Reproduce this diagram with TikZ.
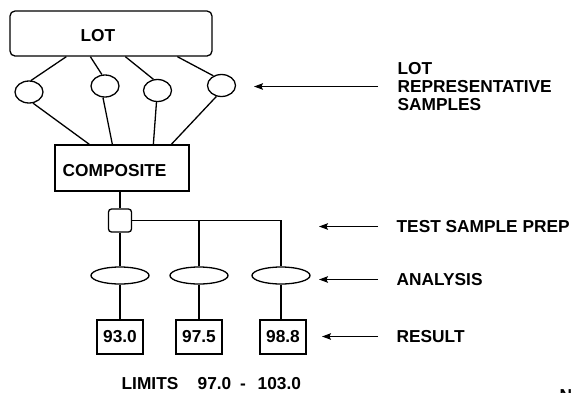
\documentclass[tikz,border=0pt]{standalone}
\usepackage{fontspec}
\setmainfont{Liberation Sans}
\usetikzlibrary{shapes.geometric,arrows.meta,calc}
\begin{document}
\begin{tikzpicture}[x=1pt,y=-1pt,line width=1.3pt,
  every node/.style={font=\fontsize{17.3}{18}\selectfont\bfseries,inner sep=0pt},
  lotbox/.style={draw,rounded corners=5pt,minimum width=202pt,minimum height=45pt},
  compbox/.style={draw,minimum width=134pt,minimum height=46pt},
  sample/.style={draw,ellipse,minimum width=28pt,minimum height=22pt},
  prep/.style={draw,rounded corners=3pt,minimum width=23pt,minimum height=23pt},
  assay/.style={draw,ellipse,minimum width=58pt,minimum height=17pt},
  resbox/.style={draw,minimum width=46pt,minimum height=34pt},
  caption/.style={anchor=west,align=left},
  arr/.style={-{Stealth[length=9pt,width=6.5pt,inset=1.5pt]}}]
\useasboundingbox (0,0) rectangle (574,392);

% lot and its samples
\node[lotbox] (lot) at (111,33.5) {};
\node[anchor=base west] (lottxt) at (80,41) {LOT};
\node[sample] (s1) at (29,92) {};
\node[sample] (s2) at (105,86) {};
\node[sample] (s3) at (157.5,90.5) {};
\node[sample] (s4) at (221.5,85.5) {};

% composite
\node[compbox] (comp) at (122,168) {};
\node[anchor=base west] (comptxt) at (62,176) {COMPOSITE};

\draw ($(lot.south west)+(57,0)$) -- (s1.80);
\draw ($(lot.south west)+(81,0)$) -- (s2.105);
\draw ($(lot.south west)+(116,0)$) -- (s3.110);
\draw ($(lot.south west)+(168,0)$) -- (s4.130);

\draw (s1.-70) -- ($(comp.north west)+(35,0)$);
\draw (s2.-100) -- ($(comp.north west)+(58,0)$);
\draw (s3.-95) -- ($(comp.north west)+(99,0)$);
\draw (s4.-115) -- ($(comp.north west)+(117,0)$);

% test sample preparation, analysis, results
\node[prep] (sq) at (120,220.5) {};
\node[assay] (a1) at (120,275.5) {};
\node[assay] (a2) at (199,275.5) {};
\node[assay] (a3) at (281,275.5) {};
\node[resbox] (r1) at (120,337) {93.0};
\node[resbox] (r2) at (199,337) {97.5};
\node[resbox] (r3) at (283,337) {98.8};

\draw (sq.north) -- (sq.north |- comp.south);
\draw (sq.south) -- (a1.north);
\draw (sq.east) -| (a3.north);
\draw (a2.north) -- (a2.north |- sq.east);
\draw (a1.south) -- (r1.north);
\draw (a2.south) -- (r2.north);
\draw (a3.south) -- (a3.south |- r3.north);

% captions on the right
\node[caption] (rep) at (397,87) {LOT\\REPRESENTATIVE\\SAMPLES};
\node[caption] (tsp) at (396,226.5) {TEST SAMPLE PREP};
\node[caption] (ana) at (396,279.5) {ANALYSIS};
\node[caption] (res) at (396,336.5) {RESULT};

\coordinate (tiprep) at (254,86.5);
\coordinate (tiptsp) at (319,226.5);
\coordinate (tipana) at (319,279.5);
\coordinate (tipres) at (322,336.5);

\draw[arr] (tiprep -| 378,0) -- (tiprep);
\draw[arr] (tiptsp -| 378,0) -- (tiptsp);
\draw[arr] (tipana -| 378,0) -- (tipana);
\draw[arr] (tipres -| 378,0) -- (tipres);

% limits
\node[anchor=base west] (lim) at (121,389.5) {LIMITS};
\node[anchor=base west] (lo) at (197,389.5) {97.0};
\node[anchor=base] (dash) at (243,389.5) {-};
\node[anchor=base west] (hi) at (257,389.5) {103.0};

\node[anchor=north west] (note) at (559,388.5) {No};
\end{tikzpicture}
\end{document}
